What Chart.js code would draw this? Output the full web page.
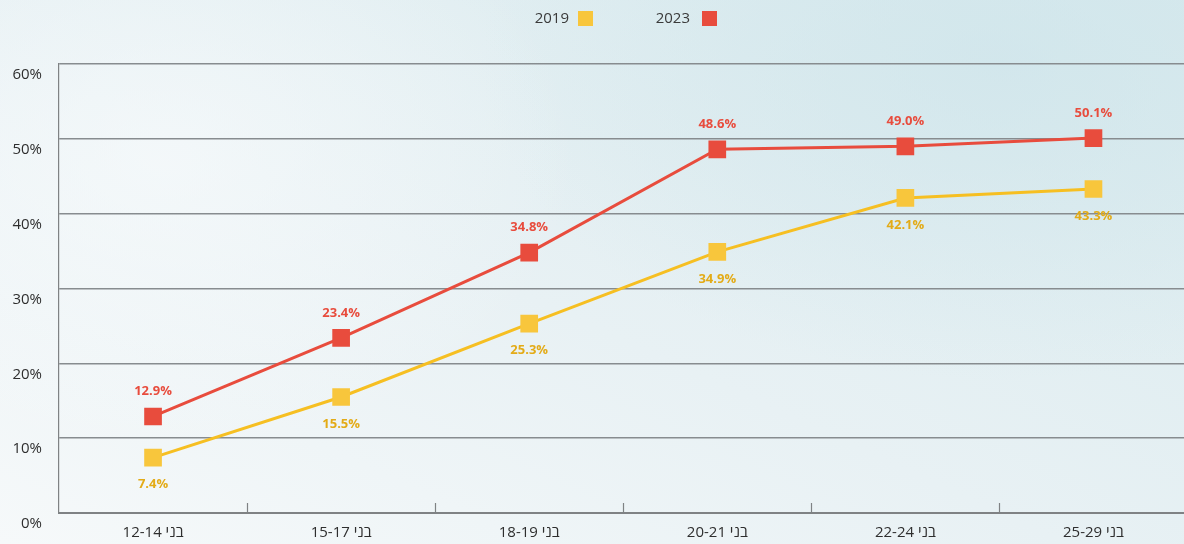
<!DOCTYPE html>
<html><head><meta charset="utf-8">
<script src="https://cdn.jsdelivr.net/npm/chart.js@4.4.0/dist/chart.umd.min.js"></script>
<style>
html,body{margin:0;padding:0;width:1184px;height:544px;overflow:hidden;}
body{background:
 radial-gradient(ellipse 420px 300px at 160px 160px, rgba(250,252,253,0.6), rgba(250,252,253,0) 100%),
 radial-gradient(ellipse 520px 320px at 1000px 60px, rgba(205,228,234,0.65), rgba(205,228,234,0) 100%),
 linear-gradient(to top right, #f6f9fa 0%, #e8f1f4 45%, #d8eaee 100%);}
#wrap{position:relative;width:1200px;height:544px;}
canvas{display:block;}
</style></head><body><div id="wrap"><canvas id="c" dir="rtl" width="1200" height="544" style="width:1200px;height:544px"></canvas></div>
<script>
const categories = ['בני 12-14','בני 15-17','בני 18-19','בני 20-21','בני 22-24','בני 25-29'];
const seriesLabels = ['2019','2023'];
const values2019 = [7.4, 15.5, 25.3, 34.9, 42.1, 43.3];
const values2023 = [12.9, 23.4, 34.8, 48.6, 49.0, 50.1];
const yMin = 0, yMax = 60, yStep = 10;

const FONT = '"Open Sans", "Liberation Sans", "DejaVu Sans", sans-serif';
const RED = '#e84c3d', YEL = '#f6bf22', YEL_FILL = '#f8c63c', YEL_TEXT = '#e3ab17';

const extras = {
  id: 'extras',
  afterDatasetsDraw(chart) {
    const ctx = chart.ctx;
    const x = chart.scales.x, a = chart.chartArea;
    ctx.save();
    ctx.strokeStyle = '#7f8284'; ctx.lineWidth = 1.2;
    for (let i = 0; i < categories.length - 1; i++) {
      const px = Math.round((x.getPixelForTick(i) + x.getPixelForTick(i + 1)) / 2) + 0.5;
      ctx.beginPath(); ctx.moveTo(px, a.bottom); ctx.lineTo(px, a.bottom - 10); ctx.stroke();
    }
    ctx.font = 'bold 13px ' + FONT;
    ctx.textAlign = 'center'; ctx.textBaseline = 'middle';
    chart.data.datasets.forEach((ds, di) => {
      const meta = chart.getDatasetMeta(di);
      meta.data.forEach((pt, i) => {
        ctx.fillStyle = ds.labelColor;
        ctx.fillText(ds.data[i].toFixed(1) + '%', pt.x, pt.y + ds.labelOffset);
      });
    });
    ctx.font = '15px ' + FONT;
    ctx.textAlign = 'right'; ctx.textBaseline = 'middle';
    const legendPos = [{textRight: 569, box: 578}, {textRight: 690, box: 702}];
    chart.data.datasets.forEach((ds, di) => {
      const p = legendPos[di];
      ctx.fillStyle = '#3a3a3a';
      ctx.fillText(ds.label, p.textRight, 19);
      ctx.fillStyle = ds.pointBackgroundColor;
      ctx.fillRect(p.box, 11, 15, 15);
    });
    ctx.restore();
  }
};

new Chart(document.getElementById('c'), {
  type: 'line',
  data: {
    labels: categories,
    datasets: [
      { label: seriesLabels[0], data: values2019, borderColor: YEL, borderWidth: 3,
        pointStyle: 'rect', pointRadius: 12.5, pointHoverRadius: 12.5,
        pointBackgroundColor: YEL_FILL, pointBorderWidth: 0,
        labelColor: YEL_TEXT, labelOffset: 27 },
      { label: seriesLabels[1], data: values2023, borderColor: RED, borderWidth: 3,
        pointStyle: 'rect', pointRadius: 12.5, pointHoverRadius: 12.5,
        pointBackgroundColor: RED, pointBorderWidth: 0,
        labelColor: RED, labelOffset: -25 }
    ]
  },
  options: {
    responsive: false, animation: false,
    devicePixelRatio: 1,
    layout: { padding: { top: 64, left: 0, right: 2, bottom: 0 } },
    plugins: { legend: { display: false }, tooltip: { enabled: false } },
    scales: {
      x: {
        offset: true,
        grid: { display: false, drawTicks: false },
        border: { display: true, color: '#7f8284', width: 2 },
        ticks: { color: '#2e2e2e', font: { family: FONT, size: 15 }, padding: 11, maxRotation: 0, autoSkip: false },
        afterFit(s) { s.height = 31; }
      },
      y: {
        min: yMin, max: yMax,
        grid: { color: '#878c8f', lineWidth: 1.4, drawTicks: false },
        border: { display: true, color: '#7f8284', width: 1.2 },
        ticks: { stepSize: yStep, color: '#2e2e2e', font: { family: FONT, size: 15 }, padding: 17, labelOffset: 11,
                 callback: v => v + '%' },
        afterFit(s) { s.width = 59; }
      }
    }
  },
  plugins: [extras]
});
</script>
</body></html>
